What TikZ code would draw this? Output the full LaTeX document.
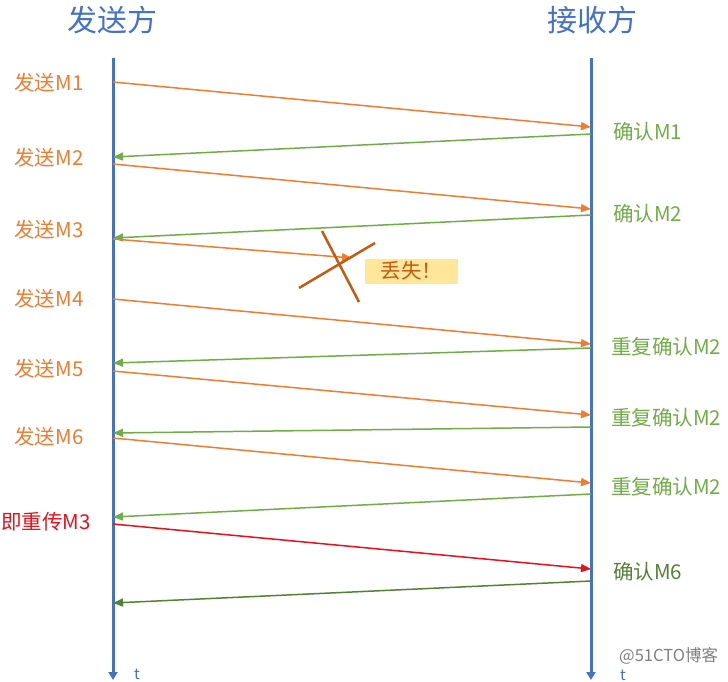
\documentclass[tikz,border=0pt]{standalone}
\usepackage{fontspec}
\newfontfamily\cjk{Noto Sans CJK SC}
\usetikzlibrary{arrows.meta}
\definecolor{lblue}{HTML}{4472C4}
\definecolor{lorange}{HTML}{ED7D31}
\definecolor{lgreen}{HTML}{70AD47}
\definecolor{dgreen}{HTML}{548235}
\definecolor{lred}{HTML}{E8101A}
\definecolor{crossc}{HTML}{C55A11}
\definecolor{lossfill}{HTML}{FFE699}
\tikzset{
  life/.style={draw=lblue,line width=3pt,-{Triangle[length=8pt,width=9pt]}},
  msg/.style={line width=1.5pt,-{Triangle[length=10pt,width=8pt]}},
  send/.style={msg,draw=lorange},
  ack/.style={msg,draw=lgreen},
  lbl/.style={font=\cjk\fontsize{20.5}{24}\selectfont,inner sep=0pt},
  title/.style={font=\cjk\fontsize{30}{34}\selectfont,text=lblue,inner sep=0pt},
  tlbl/.style={font=\cjk\fontsize{15}{16}\selectfont,text=lblue,inner sep=0pt},
}
\begin{document}
\begin{tikzpicture}[x=1pt,y=-1pt]
\useasboundingbox[fill=white] (0,0) rectangle (728,682);
\node[title] (ts) at (112,20) {发送方};
\node[title] (tr) at (592,20) {接收方};
\coordinate (s0) at (113,58);
\coordinate (s1) at (113,680);
\coordinate (r0) at (591,58);
\coordinate (r1) at (591,680);
\draw[life] (s0) -- (s1);
\draw[life] (r0) -- (r1);
\node[tlbl] (ts2) at (137,674) {t};
\node[tlbl] (tr2) at (623,675) {t};
% points
\coordinate (a1) at (113,82);  \coordinate (b1) at (591,127);
\coordinate (a2) at (591,134); \coordinate (b2) at (113,157);
\coordinate (a3) at (113,164); \coordinate (b3) at (591,209);
\coordinate (a4) at (591,215); \coordinate (b4) at (113,238);
\coordinate (a5) at (113,239); \coordinate (b5) at (352,258);
\coordinate (a6) at (113,299); \coordinate (b6) at (591,344);
\coordinate (a7) at (591,348); \coordinate (b7) at (113,363);
\coordinate (a8) at (113,371); \coordinate (b8) at (591,415);
\coordinate (a9) at (591,427); \coordinate (b9) at (113,433);
\coordinate (a10) at (113,438); \coordinate (b10) at (591,483);
\coordinate (a11) at (591,494); \coordinate (b11) at (113,517);
\coordinate (a12) at (113,524); \coordinate (b12) at (591,569);
\coordinate (a13) at (591,581); \coordinate (b13) at (113,603);
\draw[send] (a1) -- (b1);
\draw[ack] (a2) -- (b2);
\draw[send] (a3) -- (b3);
\draw[ack] (a4) -- (b4);
\draw[send] (a5) -- (b5);
\draw[send] (a6) -- (b6);
\draw[ack] (a7) -- (b7);
\draw[send] (a8) -- (b8);
\draw[ack] (a9) -- (b9);
\draw[send] (a10) -- (b10);
\draw[ack] (a11) -- (b11);
\draw[msg,draw=lred] (a12) -- (b12);
\draw[msg,draw=dgreen] (a13) -- (b13);
% cross
\coordinate (c1) at (299,288); \coordinate (c2) at (375,243);
\coordinate (c3) at (322,231); \coordinate (c4) at (359,302);
\draw[crossc,line width=2.5pt] (c1) -- (c2);
\draw[crossc,line width=2.5pt] (c3) -- (c4);
\node[lbl,fill=lossfill,text=crossc,minimum width=93pt,minimum height=25pt,anchor=west] (loss) at (365,271) {丢失！};
% left labels
\node[lbl,text=lorange] (l1) at (49,83) {发送M1};
\node[lbl,text=lorange] (l2) at (49,158) {发送M2};
\node[lbl,text=lorange] (l3) at (49,230) {发送M3};
\node[lbl,text=lorange] (l4) at (49,299) {发送M4};
\node[lbl,text=lorange] (l5) at (49,369) {发送M5};
\node[lbl,text=lorange] (l6) at (49,437) {发送M6};
\node[lbl,text=lred,anchor=west] (l7) at (1,522) {即重传M3};
% right labels
\node[lbl,text=lgreen,anchor=west] (r1l) at (613,132) {确认M1};
\node[lbl,text=lgreen,anchor=west] (r2l) at (613,214) {确认M2};
\node[lbl,text=lgreen,anchor=west] (r3l) at (611,347) {重复确认M2};
\node[lbl,text=lgreen,anchor=west] (r4l) at (611,418) {重复确认M2};
\node[lbl,text=lgreen,anchor=west] (r5l) at (611,487) {重复确认M2};
\node[lbl,text=dgreen,anchor=west] (r6l) at (613,572) {确认M6};
\node[font=\cjk\fontsize{16.5}{18}\selectfont,text=gray,anchor=west,inner sep=0pt] (wm) at (619,656) {@51CTO博客};
\end{tikzpicture}
\end{document}
